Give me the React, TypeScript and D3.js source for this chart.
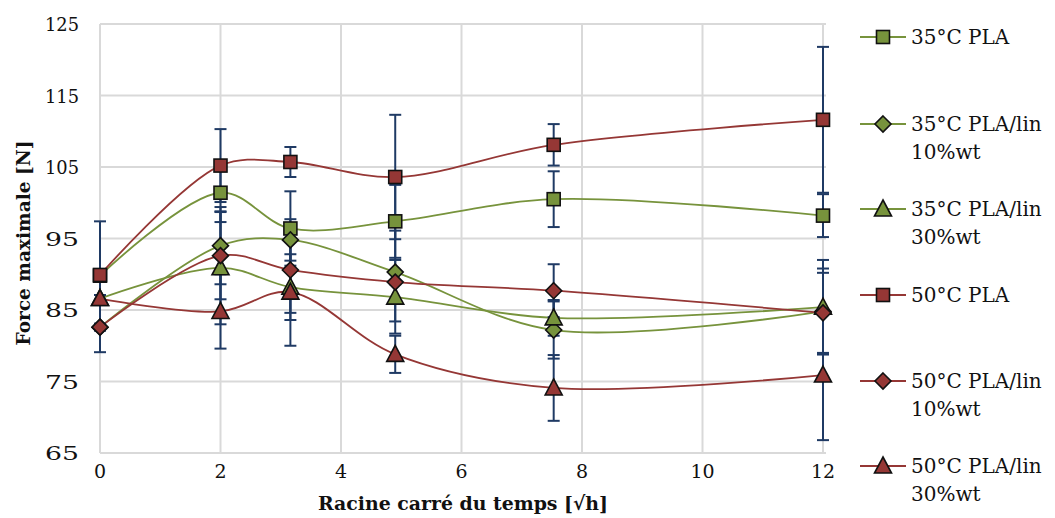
import React from "react";
import * as d3 from "d3";

const xs = [0, 2, 3.16, 4.9, 7.53, 12];
const seriesNames = [
  "35°C PLA",
  "35°C PLA/lin|10%wt",
  "35°C PLA/lin|30%wt",
  "50°C PLA",
  "50°C PLA/lin|10%wt",
  "50°C PLA/lin|30%wt",
];
const pla35 = [89.8, 101.4, 96.4, 97.4, 100.5, 98.2];
const lin10_35 = [82.6, 94.0, 94.8, 90.3, 82.2, 84.8];
const lin30_35 = [86.6, 90.9, 88.2, 86.8, 83.9, 85.4];
const pla50 = [89.9, 105.2, 105.7, 103.6, 108.1, 111.6];
const lin10_50 = [82.6, 92.6, 90.6, 88.9, 87.7, 84.6];
const lin30_50 = [86.6, 84.8, 87.5, 78.8, 74.1, 75.9];

const errPla35 = [0.5, 4.1, 5.2, 5.1, 3.9, 3.0];
const errLin10_35 = [0.5, 5.4, 2.9, 1.7, 4.0, 6.0];
const errLin30_35 = [0.5, 7.9, 4.6, 3.4, 2.5, 6.6];
const errPla50 = [7.5, 5.1, 2.1, 8.7, 2.9, 10.2];
const errLin10_50 = [3.5, 6.1, 6.0, 7.2, 3.7, 5.6];
const errLin30_50 = [0.5, 5.2, 7.5, 2.6, 4.6, 9.1];

const yTicks = [65, 75, 85, 95, 105, 115, 125];
const xTicks = [0, 2, 4, 6, 8, 10, 12];

const GREEN = "#77933c";
const RED = "#953735";
const ERR = "#1f3a64";

const series = [
  { name: seriesNames[0], values: pla35, err: errPla35, color: GREEN, shape: "square" },
  { name: seriesNames[1], values: lin10_35, err: errLin10_35, color: GREEN, shape: "diamond" },
  { name: seriesNames[2], values: lin30_35, err: errLin30_35, color: GREEN, shape: "triangle" },
  { name: seriesNames[3], values: pla50, err: errPla50, color: RED, shape: "square" },
  { name: seriesNames[4], values: lin10_50, err: errLin10_50, color: RED, shape: "diamond" },
  { name: seriesNames[5], values: lin30_50, err: errLin30_50, color: RED, shape: "triangle" },
];

const FONT = "'DejaVu Serif', 'Liberation Serif', serif";
const FS = 19;

function Marker({ shape, cx, cy, color }: { shape: string; cx: number; cy: number; color: string }) {
  const common = { fill: color, stroke: "#111", strokeWidth: 1.6 };
  if (shape === "square") {
    return <rect x={cx - 6.5} y={cy - 6.5} width={13} height={13} {...common} />;
  }
  if (shape === "diamond") {
    const r = 8;
    return <polygon points={`${cx},${cy - r} ${cx + r},${cy} ${cx},${cy + r} ${cx - r},${cy}`} {...common} />;
  }
  return (
    <polygon
      points={`${cx},${cy - 9} ${cx + 8.5},${cy + 7} ${cx - 8.5},${cy + 7}`}
      {...common}
      strokeLinejoin="miter"
    />
  );
}

export default function App() {
  const W = 1055, H = 518;
  const x = d3.scaleLinear().domain([0, 12]).range([100, 823]);
  const y = d3.scaleLinear().domain([65, 125]).range([453, 24]);
  const line = d3
    .line<number>()
    .x((_, i) => x(xs[i]))
    .y((d) => y(d))
    .curve(d3.curveCatmullRom.alpha(0.5));

  const legendYs = [37, 124, 209, 295, 381, 466];
  const txt = { fontFamily: FONT, fontSize: FS, fill: "#111" } as const;

  return (
    <svg width={W} height={H} style={{ position: "absolute", left: 0, top: 0, background: "#fff" }}>
      {yTicks.map((t) => (
        <line key={"gy" + t} x1={x(0)} x2={x(12) + 3} y1={y(t)} y2={y(t)} stroke="#d9d9d9" strokeWidth={2} />
      ))}
      {xTicks.map((t) => (
        <line key={"gx" + t} x1={x(t)} x2={x(t)} y1={y(65)} y2={y(125)} stroke="#d9d9d9" strokeWidth={2} />
      ))}
      {yTicks.map((t) => (
        <text key={"ty" + t} x={79} y={y(t) + 7} textAnchor="end" {...txt} textLength={34} lengthAdjust="spacingAndGlyphs">
          {t}
        </text>
      ))}
      {xTicks.map((t) => (
        <text key={"tx" + t} x={x(t)} y={y(65) + 25} textAnchor="middle" {...txt}>
          {t}
        </text>
      ))}
      <text
        x={463}
        y={510}
        textAnchor="middle"
        {...txt}
        fontWeight="bold"
        textLength={290}
        lengthAdjust="spacingAndGlyphs"
      >
        Racine carré du temps [√h]
      </text>
      <text
        transform="translate(30,243) rotate(-90)"
        textAnchor="middle"
        {...txt}
        fontWeight="bold"
        textLength={205}
        lengthAdjust="spacingAndGlyphs"
      >
        Force maximale [N]
      </text>
      {series.map((s) => (
        <path key={"l" + s.name} d={line(s.values) || ""} fill="none" stroke={s.color} strokeWidth={1.8} />
      ))}
      {series.map((s) =>
        s.values.map((v, i) => {
          const cx = x(xs[i]);
          const y1 = y(v + s.err[i]);
          const y2 = y(v - s.err[i]);
          return (
            <g key={"e" + s.name + i} stroke={ERR} strokeWidth={2}>
              <line x1={cx} x2={cx} y1={y1} y2={y2} />
              <line x1={cx - 6} x2={cx + 6} y1={y1} y2={y1} />
              <line x1={cx - 6} x2={cx + 6} y1={y2} y2={y2} />
            </g>
          );
        })
      )}
      {series.map((s) =>
        s.values.map((v, i) => (
          <Marker key={"m" + s.name + i} shape={s.shape} cx={x(xs[i])} cy={y(v)} color={s.color} />
        ))
      )}
      {series.map((s, i) => {
        const ly = legendYs[i];
        const lines = s.name.split("|");
        return (
          <g key={"lg" + s.name}>
            <line x1={860} x2={906} y1={ly} y2={ly} stroke={s.color} strokeWidth={1.8} />
            <Marker shape={s.shape} cx={883} cy={ly} color={s.color} />
            {lines.map((t, j) => (
              <text key={j} x={911} y={ly + 7 + j * 28} {...txt} fontSize={20}>
                {t}
              </text>
            ))}
          </g>
        );
      })}
    </svg>
  );
}
